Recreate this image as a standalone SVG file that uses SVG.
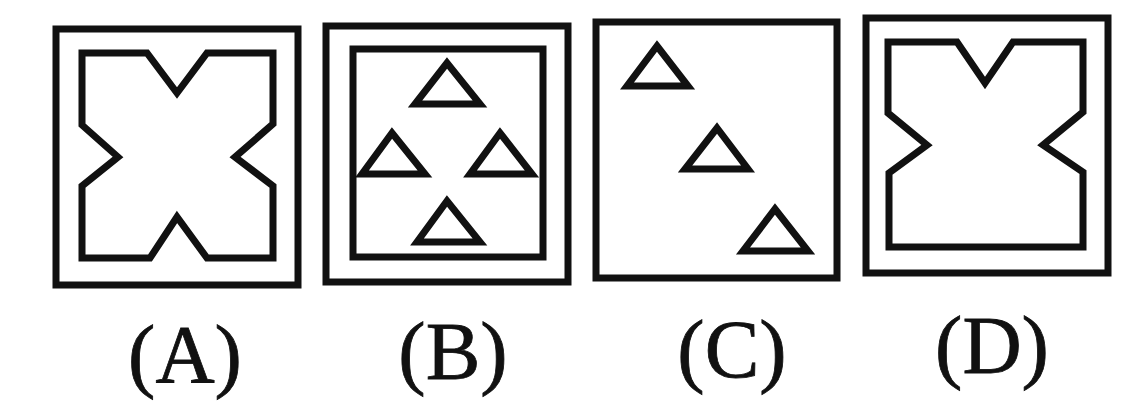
<svg xmlns="http://www.w3.org/2000/svg" width="1121" height="412" viewBox="0 0 1121 412">
<style>
.ln{fill:none;stroke:#111;stroke-width:7;stroke-linejoin:miter}
.tri{fill:none;stroke:#111;stroke-width:7;stroke-linejoin:miter}
.lbl{font-family:"Liberation Serif","Times New Roman",serif;font-size:82px;fill:#111;stroke:#111;stroke-width:0.8;text-anchor:middle}
</style>
<rect width="1121" height="412" fill="#fff"/>
<g id="figA">
<rect class="ln" x="56" y="29" width="242" height="256"/>
<path class="ln" d="M82,53 H147 L177,93 L207,53 H273 V124 L235,157 L273,186 V258 H207 L177,217 L150,258 H82 V186 L118,157 L82,125 Z"/>
</g>
<g id="figB">
<rect class="ln" x="326" y="26" width="242" height="256"/>
<rect class="ln" x="353" y="49" width="190" height="208"/>
<path class="tri" d="M447,63 L480,104 H415 Z"/>
<path class="tri" d="M392,133 L425,174 H362 Z"/>
<path class="tri" d="M500,133 L532,174 H470 Z"/>
<path class="tri" d="M447,201 L480,242 H417 Z"/>
</g>
<g id="figC">
<rect class="ln" x="596" y="22" width="241" height="256"/>
<path class="tri" d="M657,46 L688,86 H627 Z"/>
<path class="tri" d="M717,128 L748,169 H685 Z"/>
<path class="tri" d="M775,209 L808,251 H743 Z"/>
</g>
<g id="figD">
<rect class="ln" x="866" y="18" width="242" height="255"/>
<path class="ln" d="M888,42 H957 L985,83 L1013,42 H1083 V112 L1043,145 L1083,172 V247 H889 V173 L927,145 L888,113 Z"/>
</g>
<g id="labels">
<text class="lbl" x="185" y="382">(A)</text>
<text class="lbl" x="453" y="379">(B)</text>
<text class="lbl" x="732" y="377">(C)</text>
<text class="lbl" x="992" y="373">(D)</text>
</g>
</svg>
